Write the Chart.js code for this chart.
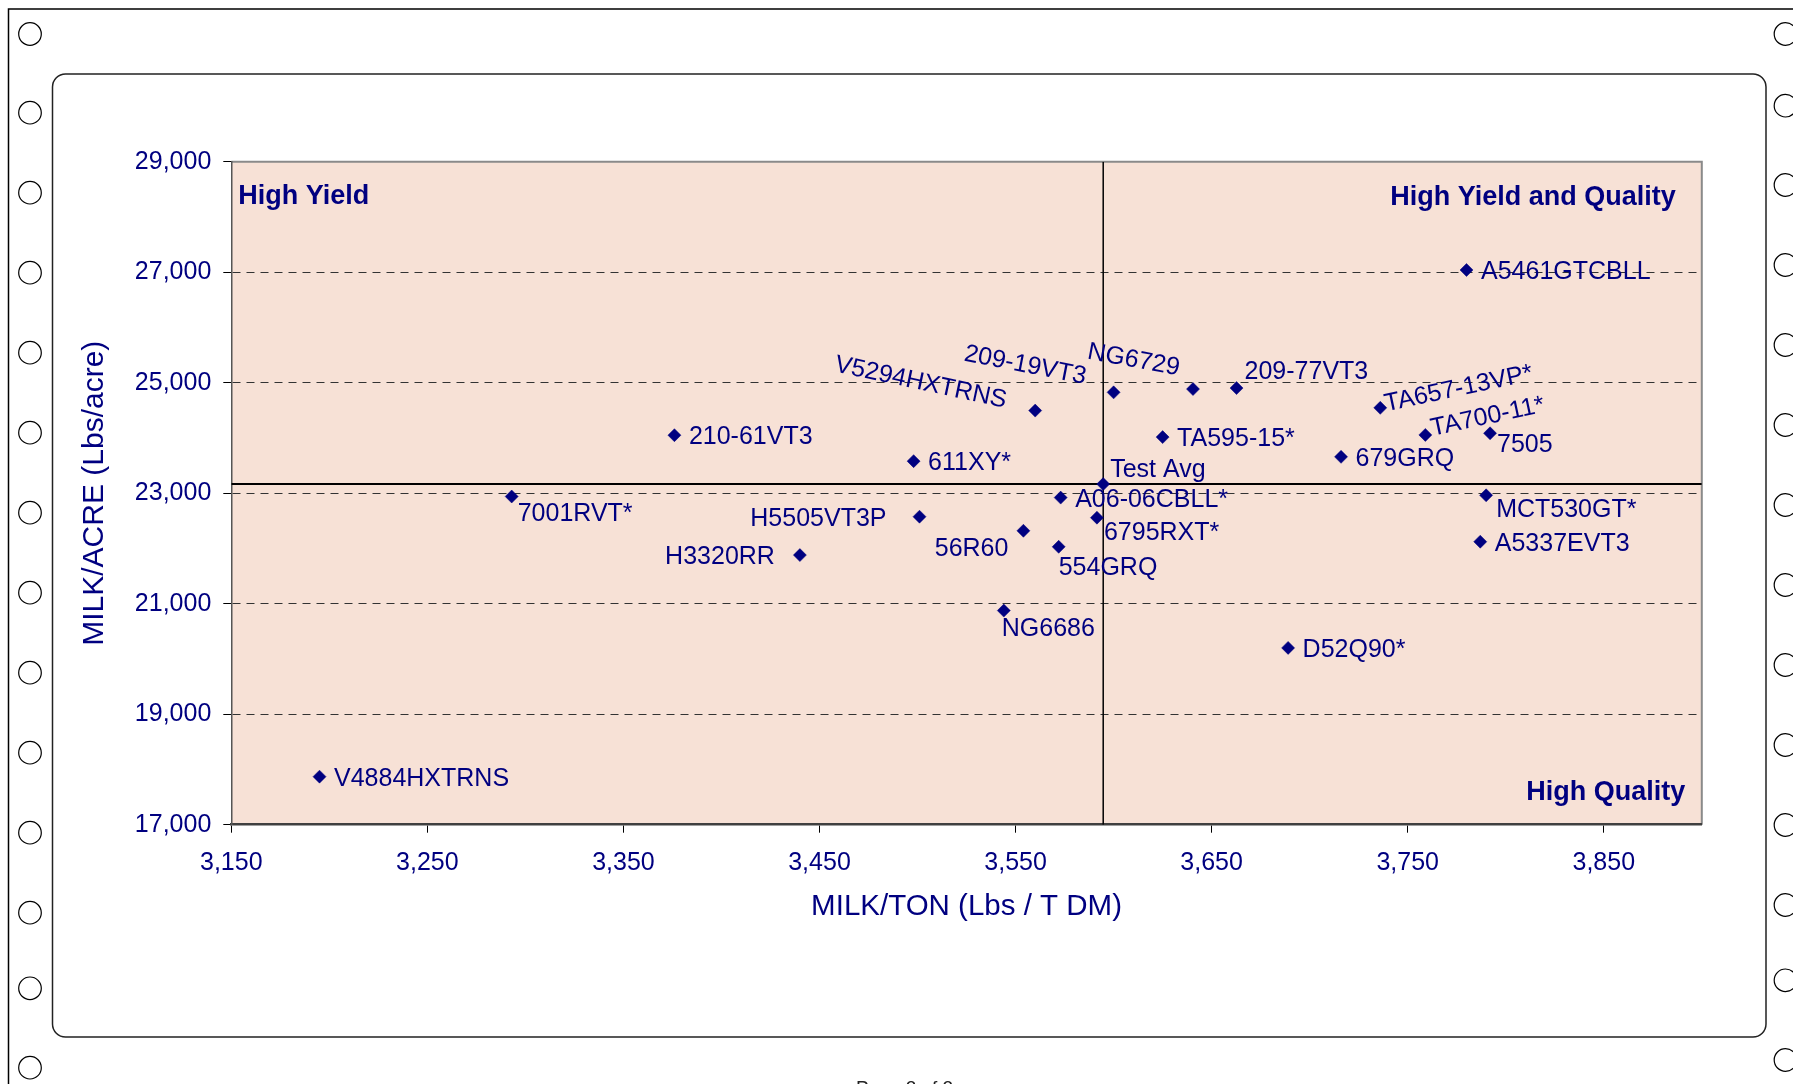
<!DOCTYPE html>
<html>
<head>
<meta charset="utf-8">
<script src="https://cdn.jsdelivr.net/npm/chart.js@4.4.1/dist/chart.umd.min.js"></script>
<style>
  html, body { margin: 0; padding: 0; background: #fff; overflow: hidden; }
  #wrap { position: relative; width: 1793px; height: 1084px; }
</style>
</head>
<body>
<div id="wrap"><canvas id="c"></canvas></div>
<script>
// ---------------- DATA ----------------
const hybrids = [
  'V4884HXTRNS', '7001RVT*', '210-61VT3', 'H3320RR', '611XY*', 'H5505VT3P',
  'V5294HXTRNS', 'NG6686', '56R60', '554GRQ', 'A06-06CBLL*', '6795RXT*',
  '209-19VT3', 'Test Avg', 'NG6729', 'TA595-15*', '209-77VT3', 'D52Q90*',
  '679GRQ', 'TA657-13VP*', 'TA700-11*', 'A5461GTCBLL', 'A5337EVT3', 'MCT530GT*', '7505'
];
const milkPerTon = [
  3195, 3293, 3376, 3440, 3498, 3501,
  3560, 3544, 3554, 3572, 3573, 3591.5,
  3600, 3594.7, 3640.5, 3625, 3662.7, 3689,
  3716, 3736, 3759, 3780, 3787, 3790, 3792
];
const milkPerAcre = [
  17870, 22940, 24050, 21880, 23580, 22575,
  24495, 20875, 22320, 22030, 22920, 22557,
  24825, 23165, 24885, 24015, 24903, 20200,
  23658, 24545, 24055, 27040, 22122, 22962, 24084
];
const averageName = 'Test Avg';
const xTickValues = [3150, 3250, 3350, 3450, 3550, 3650, 3750, 3850];
const yTickValues = [17000, 19000, 21000, 23000, 25000, 27000, 29000];
const xRange = [3150, 3900];
const yRange = [17000, 29000];
const xTitle = 'MILK/TON (Lbs / T DM)';
const yTitle = 'MILK/ACRE (Lbs/acre)';
const quadrantHighYield = 'High Yield';
const quadrantBoth = 'High Yield and Quality';
const quadrantHighQuality = 'High Quality';
const pageFooter = 'Page 2 of 2';

// ---------------- STYLE / LAYOUT ----------------
const NAVY = '#000080';
const FONT = '"Liberation Sans", Arial, Helvetica, sans-serif';
const PLOT_BG = '#F7E1D6';

// label placement relative to each marker (px); default: right of marker
const labelLayout = {
  '7001RVT*':    { dx: 6,    dy: 15 },
  'H3320RR':     { dx: -25,  dy: 0,   align: 'right' },
  'H5505VT3P':   { dx: -33,  dy: 0,   align: 'right' },
  'V5294HXTRNS': { dx: -114, dy: -30, align: 'center', rot: 12 },
  'NG6686':      { dx: -2,   dy: 16 },
  '56R60':       { dx: -15,  dy: 16,  align: 'right' },
  '554GRQ':      { dx: 0,    dy: 19 },
  '6795RXT*':    { dx: 7,    dy: 13 },
  '209-19VT3':   { dx: -88,  dy: -29, align: 'center', rot: 11 },
  'Test Avg':    { dx: 7,    dy: -16 },
  'NG6729':      { dx: -59,  dy: -31, align: 'center', rot: 10.5 },
  '209-77VT3':   { dx: 8,    dy: -18 },
  'TA657-13VP*': { dx: 78,   dy: -21, align: 'center', rot: -12 },
  'TA700-11*':   { dx: 62,   dy: -20, align: 'center', rot: -12 },
  '7505':        { dx: 7,    dy: 10 },
  'MCT530GT*':   { dx: 10,   dy: 13 }
};

const leftHoles = [34, 112.7, 192.7, 272.7, 352.7, 432.7, 512.7, 592.7, 672.7, 752.7, 832.7, 912.7, 988.3, 1067.7];
const rightHoles = [34, 105.7, 185, 265, 345, 425, 505, 585, 665, 745, 825, 905, 980.3, 1060];

const avgIdx = hybrids.indexOf(averageName);
const avgX = milkPerTon[avgIdx];
const avgY = milkPerAcre[avgIdx];

const points = hybrids.map((n, i) => ({ x: milkPerTon[i], y: milkPerAcre[i] }));

const pagePlugin = {
  id: 'page',
  beforeDraw(chart) {
    const ctx = chart.ctx;
    const a = chart.chartArea;
    ctx.save();
    ctx.fillStyle = '#fff';
    ctx.fillRect(0, 0, chart.width, chart.height);
    // outer page frame
    ctx.strokeStyle = '#000';
    ctx.lineWidth = 1.5;
    ctx.beginPath();
    ctx.moveTo(8.5, 1090); ctx.lineTo(8.5, 9); ctx.lineTo(1800, 9);
    ctx.stroke();
    // holes
    ctx.lineWidth = 1.2;
    leftHoles.forEach(y => { ctx.beginPath(); ctx.arc(30, y, 11.3, 0, Math.PI * 2); ctx.stroke(); });
    rightHoles.forEach(y => { ctx.beginPath(); ctx.arc(1785.5, y, 11.3, 0, Math.PI * 2); ctx.stroke(); });
    // rounded chart frame
    ctx.strokeStyle = '#222';
    ctx.lineWidth = 1.5;
    ctx.beginPath();
    ctx.roundRect(52.5, 74, 1766 - 52.5, 1037 - 74, 13);
    ctx.stroke();
    // footer
    ctx.fillStyle = '#222';
    ctx.font = '19px ' + FONT;
    ctx.textAlign = 'left';
    ctx.textBaseline = 'alphabetic';
    ctx.fillText(pageFooter, 856, 1094);
    // plot area
    ctx.fillStyle = PLOT_BG;
    ctx.fillRect(a.left, a.top, a.right - a.left, a.bottom - a.top);
    ctx.strokeStyle = '#8a8a8a';
    ctx.lineWidth = 2;
    ctx.beginPath();
    ctx.moveTo(a.left, a.top); ctx.lineTo(a.right, a.top); ctx.lineTo(a.right, a.bottom);
    ctx.stroke();
    ctx.restore();
  }
};

const labelPlugin = {
  id: 'pointLabels',
  afterDatasetsDraw(chart) {
    const ctx = chart.ctx;
    const a = chart.chartArea;
    const meta = chart.getDatasetMeta(0);
    ctx.save();
    ctx.fillStyle = NAVY;
    ctx.font = '25px ' + FONT;
    ctx.textBaseline = 'alphabetic';
    meta.data.forEach((pt, i) => {
      const name = hybrids[i];
      const L = Object.assign({ dx: 14.5, dy: 0, align: 'left', rot: 0 }, labelLayout[name] || {});
      ctx.save();
      ctx.translate(pt.x + L.dx, pt.y + L.dy);
      ctx.rotate(L.rot * Math.PI / 180);
      ctx.textAlign = L.align;
      ctx.fillText(name, 0, 9);
      ctx.restore();
    });
    ctx.font = 'bold 27px ' + FONT;
    ctx.textAlign = 'left';
    ctx.fillText(quadrantHighYield, a.left + 7, a.top + 42.5);
    ctx.textAlign = 'right';
    ctx.fillText(quadrantBoth, a.right - 26, a.top + 43.5);
    ctx.fillText(quadrantHighQuality, a.right - 16.5, a.bottom - 25);
    ctx.restore();
  }
};

const fmt = v => Number(v).toLocaleString('en-US');

new Chart(document.getElementById('c'), {
  type: 'scatter',
  data: {
    datasets: [
      {
        label: 'Hybrids',
        data: points,
        pointStyle: 'rectRot',
        pointRadius: 6.5,
        pointHoverRadius: 6.5,
        backgroundColor: NAVY,
        borderColor: NAVY,
        borderWidth: 0.5,
        showLine: false
      },
      {
        label: 'avgV',
        data: [{ x: avgX, y: yRange[0] }, { x: avgX, y: yRange[1] }],
        showLine: true,
        borderColor: '#000',
        borderWidth: 1.5,
        pointRadius: 0
      },
      {
        label: 'avgH',
        data: [{ x: xRange[0], y: avgY }, { x: xRange[1], y: avgY }],
        showLine: true,
        borderColor: '#000',
        borderWidth: 2,
        pointRadius: 0
      }
    ]
  },
  options: {
    responsive: true,
    maintainAspectRatio: false,
    animation: false,
    events: [],
    layout: { padding: { left: 0, top: 161.7, right: 91.2, bottom: 0 } },
    plugins: { legend: { display: false }, tooltip: { enabled: false } },
    scales: {
      x: {
        type: 'linear',
        position: 'bottom',
        min: xRange[0],
        max: xRange[1],
        afterBuildTicks: s => { s.ticks = xTickValues.map(v => ({ value: v })); },
        afterFit: s => { s.height = 259.3; },
        grid: { drawOnChartArea: false, tickLength: 8, tickColor: '#000', tickWidth: 1, color: '#000' },
        border: { color: '#404040', width: 2.5 },
        ticks: {
          padding: 15, color: NAVY, font: { size: 25, family: FONT },
          maxRotation: 0, autoSkip: false, callback: v => fmt(v)
        },
        title: {
          display: true, text: xTitle, color: NAVY,
          font: { size: 29.5, family: FONT }, padding: { top: 0, bottom: 159 }
        }
      },
      y: {
        type: 'linear',
        position: 'left',
        min: yRange[0],
        max: yRange[1],
        afterBuildTicks: s => { s.ticks = yTickValues.map(v => ({ value: v })); },
        afterFit: s => { s.width = 231.3; },
        grid: {
          color: c => (c.tick && (c.tick.value === yRange[0] || c.tick.value === yRange[1])) ? 'rgba(0,0,0,0)' : '#333',
          lineWidth: 1, tickLength: 8, tickColor: '#000', tickWidth: 1
        },
        border: { color: '#555', width: 1.5, dash: [8, 6] },
        ticks: { padding: 12, color: NAVY, font: { size: 25, family: FONT }, callback: v => fmt(v) },
        title: {
          display: true, text: yTitle, color: NAVY,
          font: { size: 30, family: FONT }, padding: { top: 76.3, bottom: 0 }
        }
      }
    }
  },
  plugins: [pagePlugin, labelPlugin]
});
</script>
</body>
</html>
